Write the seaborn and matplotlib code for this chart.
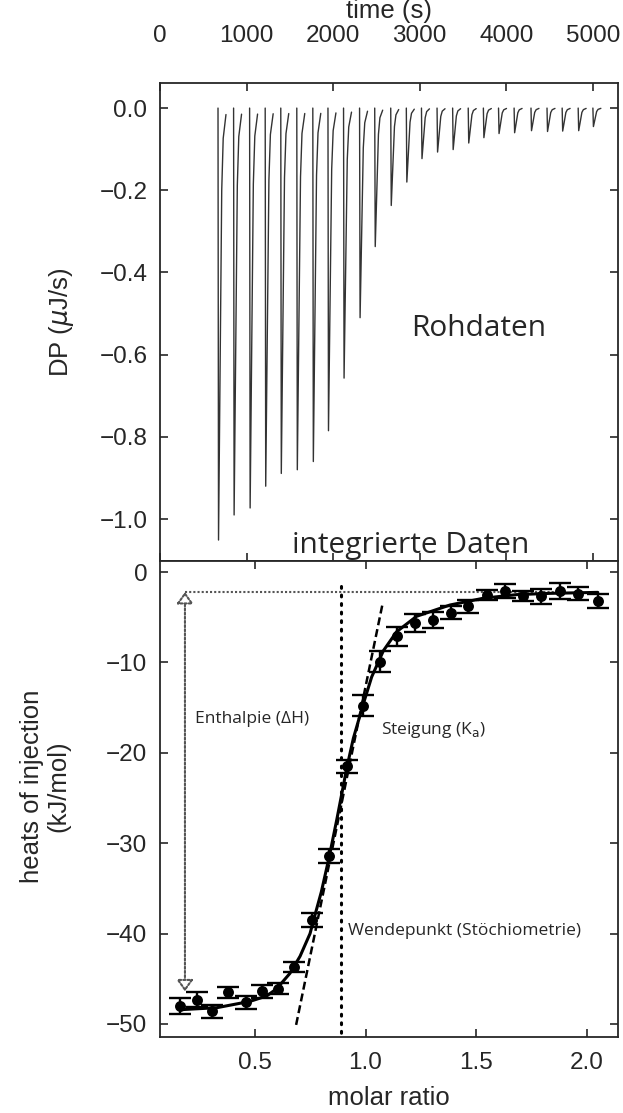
import numpy as np
import pandas as pd
import matplotlib
matplotlib.use("Agg")
import matplotlib.pyplot as plt
import seaborn as sns
from matplotlib.patches import FancyArrowPatch

# ---------------- data ----------------
# raw thermogram: injection start times (s) and peak minima (uJ/s)
INJ_TIME = [670, 850, 1035, 1215, 1395, 1580, 1765, 1940, 2120, 2305, 2480, 2665,
            2845, 3020, 3200, 3380, 3560, 3735, 3910, 4090, 4285, 4470, 4645, 4830, 5000]
PEAK_MIN = [-1.051, -0.990, -0.973, -0.920, -0.889, -0.880, -0.860, -0.785, -0.657,
            -0.510, -0.337, -0.237, -0.180, -0.123, -0.107, -0.101, -0.085, -0.072,
            -0.062, -0.060, -0.055, -0.057, -0.056, -0.055, -0.045]
# peak shape template (offset in s, fraction of peak depth)
PEAK_OFFSET = [0, 6, 43, 60, 92]
PEAK_FRACTION = [0.0, 1.0, 0.19, 0.07, 0.015]

# integrated heats
MOLAR_RATIO = [0.161, 0.236, 0.307, 0.379, 0.458, 0.530, 0.603, 0.678, 0.759, 0.835,
               0.915, 0.990, 1.066, 1.141, 1.224, 1.304, 1.385, 1.465, 1.548, 1.631,
               1.711, 1.794, 1.880, 1.963, 2.051]
HEAT = [-48.0, -47.3, -48.6, -46.5, -47.6, -46.4, -46.1, -43.7, -38.5, -31.4,
        -21.5, -14.8, -9.9, -7.1, -5.6, -5.3, -4.5, -3.8, -2.5, -2.1,
        -2.7, -2.7, -2.1, -2.4, -3.2]
HEAT_ERR = [0.85, 0.8, 0.7, 0.6, 0.7, 0.73, 0.63, 0.6, 0.74, 0.74,
            0.7, 1.16, 1.2, 1.07, 1.0, 0.92, 0.7, 0.7, 0.55, 0.74,
            0.55, 0.87, 0.92, 0.7, 0.77]
# fitted curve
FIT_X = [0.176, 0.327, 0.477, 0.553, 0.598, 0.658, 0.704, 0.749, 0.764, 0.800, 0.835,
         0.870, 0.889, 0.915, 0.945, 0.990, 1.028, 1.081, 1.141, 1.231, 1.382,
         1.533, 1.684, 1.835, 2.051]
FIT_Y = [-48.4, -48.2, -47.5, -46.9, -46.1, -44.4, -42.5, -40.0, -38.6, -35.4, -31.6,
         -27.4, -25.0, -21.7, -18.4, -14.6, -11.6, -8.7, -6.6, -4.9, -3.65,
         -2.9, -2.5, -2.36, -2.25]
# annotation geometry
TANGENT_X = [0.686, 1.079]
TANGENT_Y = [-50.1, -3.3]
STOICH_X = [0.889, 0.889]
STOICH_Y = [-1.6, -51.0]
DH_X = 0.183
DH_TOP = -2.2
DH_BOTTOM = -46.4
DH_LINE_X = [0.183, 1.9]

TIME_TICKS = [0, 1000, 2000, 3000, 4000, 5000]
DP_TICKS = [0.0, -0.2, -0.4, -0.6, -0.8, -1.0]
MR_TICKS = [0.5, 1.0, 1.5, 2.0]
HEAT_TICKS = [0, -10, -20, -30, -40, -50]

# ---------------- style ----------------
sns.set_style("ticks")
plt.rcParams['font.family'] = ['Liberation Sans', 'DejaVu Sans']
plt.rcParams['axes.linewidth'] = 1.3
ANNOT_FONT = ['Open Sans', 'DejaVu Sans']
TICK_FS = 17.5
LABEL_FS = 18.5

fig = plt.figure(figsize=(6.23, 11.13), dpi=100)
L, W = 160 / 623, 458 / 623
ax1 = fig.add_axes([L, 1 - 561 / 1113, W, 478 / 1113])
ax2 = fig.add_axes([L, 1 - 1037 / 1113, W, 476 / 1113])

# ---- top panel: raw data ----
rows = []
for i, (t0, m) in enumerate(zip(INJ_TIME, PEAK_MIN)):
    for off, fr in zip(PEAK_OFFSET, PEAK_FRACTION):
        rows.append({"injection": i, "time": t0 + off, "dp": m * fr})
trace = pd.DataFrame(rows)
sns.lineplot(data=trace, x="time", y="dp", units="injection", estimator=None,
             color="#333333", lw=1.0, ax=ax1)
ax1.set_xlim(0, 5290)
ax1.set_ylim(-1.102, 0.061)
ax1.set_xticks(TIME_TICKS)
ax1.set_yticks(DP_TICKS)
ax1.tick_params(axis='both', direction='in', length=6, width=1.2, labelsize=TICK_FS,
                top=True, right=True, bottom=True, left=True,
                labeltop=True, labelbottom=False)
ax1.tick_params(axis='x', pad=26)
ax1.tick_params(axis='y', pad=9)
ax1.xaxis.set_label_position('top')
ax1.set_xlabel("time (s)", fontsize=LABEL_FS, va='center')
ax1.xaxis.set_label_coords(0.5, (561 - 11) / 478)
ax1.set_ylabel("DP ($\\mu$J/s)", fontsize=LABEL_FS, va='center')
ax1.yaxis.set_label_coords((62 - 160) / 458, 0.5)
ax1.text(3677, -0.554, "Rohdaten", fontsize=21.5, family=ANNOT_FONT,
         ha='center', va='baseline')
ax1.text(2893, -1.083, "integrierte Daten", fontsize=21.5, family=ANNOT_FONT,
         ha='center', va='baseline')

# ---- bottom panel: integrated heats ----
ax2.set_xlim(0.0701, 2.1425)
ax2.set_ylim(-51.44, 1.22)
# enthalpy arrow
ax2.plot(DH_LINE_X, [DH_TOP, DH_TOP], color="#555555", lw=1.5, ls=(0, (1, 1.0)), zorder=1)
arr = FancyArrowPatch((DH_X, DH_BOTTOM), (DH_X, DH_TOP),
                      arrowstyle="<|-|>,head_length=7,head_width=5",
                      color="#555555", lw=1.5, ls=(0, (1, 1.0)),
                      shrinkA=0, shrinkB=0, zorder=1)
arr.set_facecolor("white")
ax2.add_patch(arr)
# stoichiometry line and tangent
ax2.plot(STOICH_X, STOICH_Y, color="black", lw=2.2, ls=(0, (0.6, 2.2)),
         dash_capstyle='round', zorder=2)
ax2.plot(TANGENT_X, TANGENT_Y, color="black", lw=1.8, ls=(0, (3.2, 1.6)), zorder=2)
# fit
sns.lineplot(x=FIT_X, y=FIT_Y, color="black", lw=2.2, ax=ax2, zorder=3)
# data
ax2.errorbar(MOLAR_RATIO, HEAT, yerr=HEAT_ERR, fmt='none', ecolor='black',
             elinewidth=1.7, capsize=8, capthick=1.7, zorder=4)
sns.scatterplot(x=MOLAR_RATIO, y=HEAT, color='black', edgecolor='black', s=62,
                linewidth=0, ax=ax2, zorder=5)
ax2.set_xticks(MR_TICKS)
ax2.set_yticks(HEAT_TICKS)
ax2.tick_params(axis='both', direction='in', length=6, width=1.2, labelsize=TICK_FS,
                top=True, right=True, bottom=True, left=True)
ax2.tick_params(axis='x', pad=11)
ax2.tick_params(axis='y', pad=9)
ax2.set_xlabel("molar ratio", fontsize=LABEL_FS, va='center')
ax2.xaxis.set_label_coords(0.5, (1037 - 1098) / 476)
ax2.set_ylabel("heats of injection\n(kJ/mol)", fontsize=LABEL_FS, va='center',
               linespacing=1.15)
ax2.yaxis.set_label_coords((45 - 160) / 458, (1037 - 786) / 476)
ax2.text(0.229, -16.7, "Enthalpie (\u0394H)", fontsize=12.5, family=ANNOT_FONT,
         va='baseline', ha='left')
ax2.text(1.070, -17.9, "Steigung (K$_\\mathrm{a}$)", fontsize=12.5, family=ANNOT_FONT,
         va='baseline', ha='left')
ax2.text(0.922, -40.2, "Wendepunkt (St\u00f6chiometrie)", fontsize=12.5,
         family=ANNOT_FONT, va='baseline', ha='left')

for ax in (ax1, ax2):
    for s in ax.spines.values():
        s.set_visible(True)
        s.set_linewidth(1.3)

fig.savefig("out.png", dpi=100)
